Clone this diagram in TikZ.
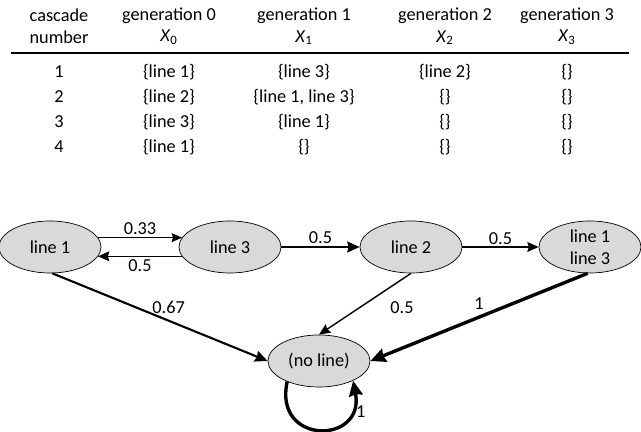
\documentclass[tikz,border=0pt]{standalone}
\usepackage{fontspec}
\setmainfont{Carlito}
\usetikzlibrary{arrows.meta,shapes.geometric}
\definecolor{stategray}{HTML}{D9D9D9}
\tikzset{
  cell/.style={font=\fontsize{13}{15.6}\selectfont, inner sep=0pt, align=center},
  st/.style={ellipse, draw=black, line width=0.5pt, fill=stategray, inner sep=0pt,
             minimum width=2.55cm, minimum height=1.3cm, align=center,
             font=\fontsize{13}{15.6}\selectfont},
  pl/.style={font=\fontsize{13}{15.6}\selectfont, inner sep=1.5pt},
  pa/.style={-{Stealth[length=6pt 2,width=5pt 2,inset=1pt]}, line width=#1},
  pa/.default=0.7pt,
}

\begin{document}
\begin{tikzpicture}[x=0.025cm,y=0.025cm]
  \useasboundingbox (0,0) rectangle (641,432);
  % table
  \node[cell] (hd0) at (59,406) {cascade\\number};
  \node[cell] (hd1) at (169,406) {generation 0\\\textit{X}\textsubscript{0}};
  \node[cell] (hd2) at (304,406) {generation 1\\\textit{X}\textsubscript{1}};
  \node[cell] (hd3) at (445,406) {generation 2\\\textit{X}\textsubscript{2}};
  \node[cell] (hd4) at (567,406) {generation 3\\\textit{X}\textsubscript{3}};
  \draw[line width=1.3pt] (11,379) -- (629,379);
  \foreach \cn/\ga/\gb/\gc/\gd [count=\i] in
     {1/{\{line 1\}}/{\{line 3\}}/{\{line 2\}}/{\{\}},
      2/{\{line 2\}}/{\{line 1, line 3\}}/{\{\}}/{\{\}},
      3/{\{line 3\}}/{\{line 1\}}/{\{\}}/{\{\}},
      4/{\{line 1\}}/{\{\}}/{\{\}}/{\{\}}}{
    \node[cell] (r\i-0) at (59,{385-25*\i}) {\cn};
    \node[cell] (r\i-1) at (169,{385-25*\i}) {\ga};
    \node[cell] (r\i-2) at (304,{385-25*\i}) {\gb};
    \node[cell] (r\i-3) at (445,{385-25*\i}) {\gc};
    \node[cell] (r\i-4) at (567,{385-25*\i}) {\gd};
  }
  % chain
  \node[st] (l1) at (50,185) {line 1};
  \node[st] (l3) at (230,185) {line 3};
  \node[st] (l2) at (411,185) {line 2};
  \node[st] (l13) at (590,185) {line 1\\line 3};
  \node[st] (nl) at (319,71) {(no line)};
  \draw[pa] (l1.11) -- (l3.169) node[pl,midway,above]{0.33};
  \draw[pa=1pt] (l3.191) -- (l1.349) node[pl,midway,below]{0.5};
  \draw[pa=1.4pt] (l3) -- (l2) node[pl,midway,above]{0.5};
  \draw[pa=1pt] (l2) -- (l13) node[pl,midway,above]{0.5};
  \draw[pa=1.5pt] (l1.275) -- (nl.west) node[pl,pos=0.54,above=3pt]{0.67};
  \draw[pa=1pt] (l2.south) -- (nl.north) node[pl,pos=0.56,right=20pt]{0.5};
  \draw[pa=2.4pt] (l13.265) -- (nl.east) node[pl,pos=0.5,above=3pt]{1};
  \draw[pa=2.4pt] (nl.213) .. controls +(-14,-64) and +(12,-64) .. (nl.330)
    node[pl,pos=0.8,right=2pt]{1};
\end{tikzpicture}
\end{document}
